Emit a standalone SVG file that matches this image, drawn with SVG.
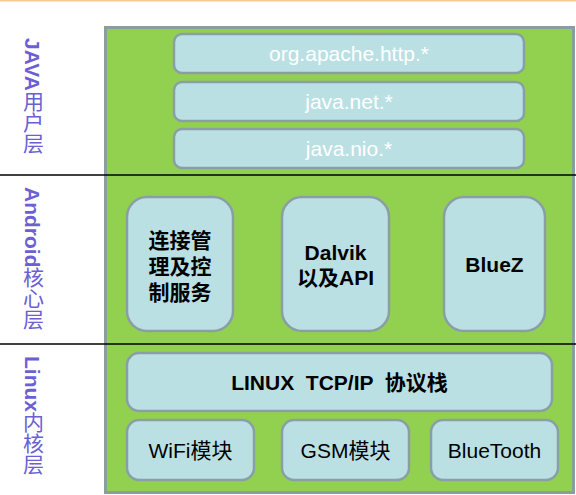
<svg xmlns="http://www.w3.org/2000/svg" width="576" height="495" viewBox="0 0 576 495">
<style>
.box{fill:#bae0e4;stroke:#8a9ea6;stroke-width:2.5}
.side{font-family:"Liberation Sans","Noto Sans CJK SC",sans-serif;font-size:21px;font-weight:bold;fill:#6b5fd3;writing-mode:vertical-rl}
.side .cjk{font-weight:normal}
.w{font-family:"Liberation Sans","Noto Sans CJK SC",sans-serif;font-size:21px;fill:#ffffff;text-anchor:middle}
.b{font-family:"Liberation Sans","Noto Sans CJK SC",sans-serif;font-size:21px;font-weight:bold;fill:#000000;text-anchor:middle}
.n{font-family:"Liberation Sans","Noto Sans CJK SC",sans-serif;font-size:21px;fill:#000000;text-anchor:middle}
.sep{stroke:#000000;stroke-width:1.5}
</style>
<rect x="0" y="0" width="576" height="495" fill="#ffffff"/>
<line x1="0" y1="0.75" x2="576" y2="0.75" stroke="#f8c994" stroke-width="1.5"/>
<g id="panel">
<rect x="105.5" y="27.5" width="468" height="465" fill="#92d050" stroke="#8a9ea0" stroke-width="3"/>
</g>
<g id="side-labels">
<text class="side" x="32" y="38">JAVA<tspan class="cjk">用户层</tspan></text>
<text class="side" x="32" y="187">Android<tspan class="cjk">核心层</tspan></text>
<text class="side" x="32" y="356">Linux<tspan class="cjk">内核层</tspan></text>
</g>
<g id="node-http">
<rect class="box" x="174" y="34" width="350" height="39" rx="8"/>
<text class="w" x="349" y="61">org.apache.http.*</text>
</g>
<g id="node-net">
<rect class="box" x="174" y="82" width="350" height="39" rx="8"/>
<text class="w" x="349" y="109">java.net.*</text>
</g>
<g id="node-nio">
<rect class="box" x="174" y="129" width="350" height="39" rx="8"/>
<text class="w" x="349" y="156">java.nio.*</text>
</g>
<g id="node-conn">
<rect class="box" x="127" y="197" width="106" height="134" rx="20"/>
<text class="b" x="180" y="248">连接管</text>
<text class="b" x="180" y="274">理及控</text>
<text class="b" x="180" y="300">制服务</text>
</g>
<g id="node-dalvik">
<rect class="box" x="282" y="197" width="107" height="134" rx="20"/>
<text class="b" x="335.5" y="260">Dalvik</text>
<text class="b" x="335.5" y="285">以及API</text>
</g>
<g id="node-bluez">
<rect class="box" x="444" y="197" width="101" height="134" rx="20"/>
<text class="b" x="494.5" y="272">BlueZ</text>
</g>
<g id="node-tcpip">
<rect class="box" x="127" y="353" width="425" height="58" rx="12"/>
<text class="b" x="339.5" y="390" style="white-space:pre">LINUX  TCP/IP  协议栈</text>
</g>
<g id="node-wifi">
<rect class="box" x="127" y="420" width="127" height="60" rx="12"/>
<text class="n" x="190.5" y="458">WiFi模块</text>
</g>
<g id="node-gsm">
<rect class="box" x="282" y="420" width="127" height="60" rx="12"/>
<text class="n" x="345.5" y="458">GSM模块</text>
</g>
<g id="node-bluetooth">
<rect class="box" x="431" y="420" width="127" height="60" rx="12"/>
<text class="n" x="494.5" y="458">BlueTooth</text>
</g>
<g id="connectors">
<line class="sep" x1="0" y1="175" x2="576" y2="175"/>
<line class="sep" x1="0" y1="344" x2="576" y2="344"/>
</g>
</svg>
